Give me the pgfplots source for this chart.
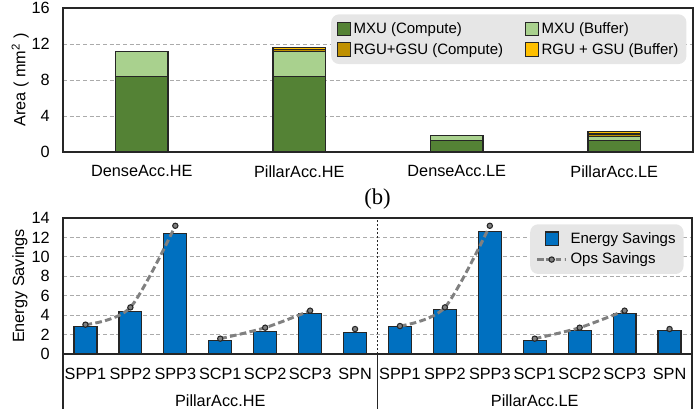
\documentclass[border=0pt]{standalone}
\usepackage{pgfplots}
\pgfplotsset{compat=1.18}
\usepackage{fontspec}
\setmainfont{Liberation Sans}
\newfontfamily\serifb{Liberation Serif}
\definecolor{mxuc}{HTML}{548235}
\definecolor{mxub}{HTML}{A9D18E}
\definecolor{rguc}{HTML}{BF9000}
\definecolor{rgub}{HTML}{FFC000}
\definecolor{eblue}{HTML}{0070C0}
\definecolor{leggray}{HTML}{E6E6E6}
\definecolor{gridgray}{HTML}{ABABAB}
\definecolor{opsgray}{HTML}{808080}
\pgfplotsset{
  common/.style={
    scale only axis,
    anchor=south west,
    major tick length=0pt,
    /pgf/number format/assume math mode=true,
    tick label style={font=\fontsize{12.2}{14}\selectfont},
    label style={font=\fontsize{12.2}{14}\selectfont},
    yticklabel style={inner sep=0pt, anchor=east, xshift=-9.75pt},
    xticklabel style={inner sep=0pt, anchor=north, yshift=-9.75pt},
    ymajorgrids,
    grid style={gridgray, dash pattern=on 3pt off 2pt, line width=0.7pt},
    axis line style={line width=0.8pt, black!85},
    legend cell align=left,
    legend style={fill=leggray, draw=none, rounded corners=6pt,
      font=\fontsize{11.25}{13}\selectfont, inner sep=4pt,
      row sep=2pt},
  },
  sqleg/.style={legend image code/.code={\draw[##1, sharp corners, line width=0.8pt] (0pt,-5pt) rectangle (10pt,5pt);}},
  sqlegshift/.style={legend image code/.code={\draw[##1, sharp corners, line width=0.8pt] (6pt,-5pt) rectangle (16pt,5pt);}},
  opsline/.style={smooth, opsgray, line width=2.2pt, dash pattern=on 5pt off 2.5pt,
    mark=*, mark size=2pt, mark options={solid, fill=gray, draw=black!85, line width=0.8pt},
    legend image code/.code={\draw[##1, mark repeat=2, mark phase=2] plot coordinates {(0pt,0pt) (11pt,0pt) (22pt,0pt)};}},
}
\begin{document}
\begin{tikzpicture}
\begin{axis}[common,
  at={(47.25pt,192pt)}, width=472.5pt, height=108pt,
  ymin=0, ymax=16, ytick={0,4,8,12,16},
  xmin=-0.5, xmax=3.5, xtick={0,1,2,3},
  xticklabels={DenseAcc.HE,PillarAcc.HE,DenseAcc.LE,PillarAcc.LE},
  ybar stacked, bar width=0.333,
  ylabel={Area ( mm\textsuperscript{2} )},
  every axis y label/.style={at={(axis description cs:-0.068,0.5)}, rotate=90, anchor=center, font=\fontsize{12.2}{14}\selectfont},
  legend columns=2,
  legend style={at={(0.99,0.958)}, anchor=north east,
    /tikz/every even column/.append style={column sep=14pt}},
]
\addplot[sqleg, fill=mxuc, draw=black!85, line width=0.9pt] coordinates {(0,8.4) (1,8.4) (2,1.25) (3,1.25)};
\addlegendentry{MXU (Compute)}
\addplot[sqleg, fill=mxub, draw=black!85, line width=0.9pt] coordinates {(0,2.75) (1,2.75) (2,0.55) (3,0.45)};
\addlegendentry{MXU (Buffer)}
\addplot[sqleg, fill=rguc, draw=black!85, line width=0.9pt] coordinates {(0,0) (1,0.2) (2,0) (3,0.3)};
\addlegendentry{RGU+GSU (Compute)}
\addplot[sqleg, fill=rgub, draw=black!85, line width=0.9pt] coordinates {(0,0) (1,0.25) (2,0) (3,0.3)};
\addlegendentry{RGU + GSU (Buffer)}
\end{axis}

\node[font=\serifb\fontsize{17}{17}\selectfont, inner sep=0pt] at (283.1pt,156.75pt) {(b)};

\begin{axis}[common,
  at={(47.25pt,40.5pt)}, width=471.75pt, height=102pt,
  ymin=0, ymax=14, ytick={0,2,4,6,8,10,12,14},
  xmin=-0.5, xmax=13.5, xtick={0,...,13},
  xticklabels={SPP1,SPP2,SPP3,SCP1,SCP2,SCP3,SPN,SPP1,SPP2,SPP3,SCP1,SCP2,SCP3,SPN},
  xticklabel style={yshift=-0.75pt},
  clip=false,
  ylabel={Energy Savings},
  every axis y label/.style={at={(axis description cs:-0.0684,0.5)}, rotate=90, anchor=center, font=\fontsize{12.2}{14}\selectfont},
  legend style={at={(0.987,0.956)}, anchor=north east},
]
\addplot[ybar, bar width=0.51, fill=eblue, draw=black!85, line width=0.9pt, sqlegshift] coordinates {
(0,2.8) (1,4.4) (2,12.4) (3,1.4) (4,2.3) (5,4.15) (6,2.2)
(7,2.85) (8,4.6) (9,12.6) (10,1.4) (11,2.45) (12,4.2) (13,2.45)};
\addlegendentry{Energy Savings}
\addplot[opsline] coordinates {(0,3.02) (1,4.8) (2,13.2)};
\addlegendentry{Ops Savings}
\addplot[opsline, forget plot] coordinates {(3,1.58) (4,2.71) (5,4.46)};
\addplot[opsline, forget plot, only marks] coordinates {(6,2.57)};
\addplot[opsline, forget plot] coordinates {(7,2.88) (8,4.8) (9,13.2)};
\addplot[opsline, forget plot] coordinates {(10,1.58) (11,2.71) (12,4.46)};
\addplot[opsline, forget plot, only marks] coordinates {(13,2.57)};
\draw[black!85, dash pattern=on 1.5pt off 1.5pt, line width=0.8pt] (axis cs:6.5,0) -- (axis cs:6.5,14);
\draw[black!85, line width=0.8pt] (axis cs:6.5,0) -- ([yshift=-60pt]axis cs:6.5,0);
\draw[black!85, line width=0.8pt] (rel axis cs:0,0) -- ([yshift=-60pt]rel axis cs:0,0);
\draw[black!85, line width=0.8pt] (rel axis cs:1,0) -- ([yshift=-60pt]rel axis cs:1,0);
\node[anchor=north, inner sep=0pt, font=\fontsize{12.2}{14}\selectfont] at ([yshift=-30pt]axis cs:3,0) {PillarAcc.HE};
\node[anchor=north, inner sep=0pt, font=\fontsize{12.2}{14}\selectfont] at ([yshift=-30pt]axis cs:10,0) {PillarAcc.LE};
\end{axis}
\pgfresetboundingbox
\path (0pt,0pt) rectangle (525pt,306pt);
\end{tikzpicture}
\end{document}
